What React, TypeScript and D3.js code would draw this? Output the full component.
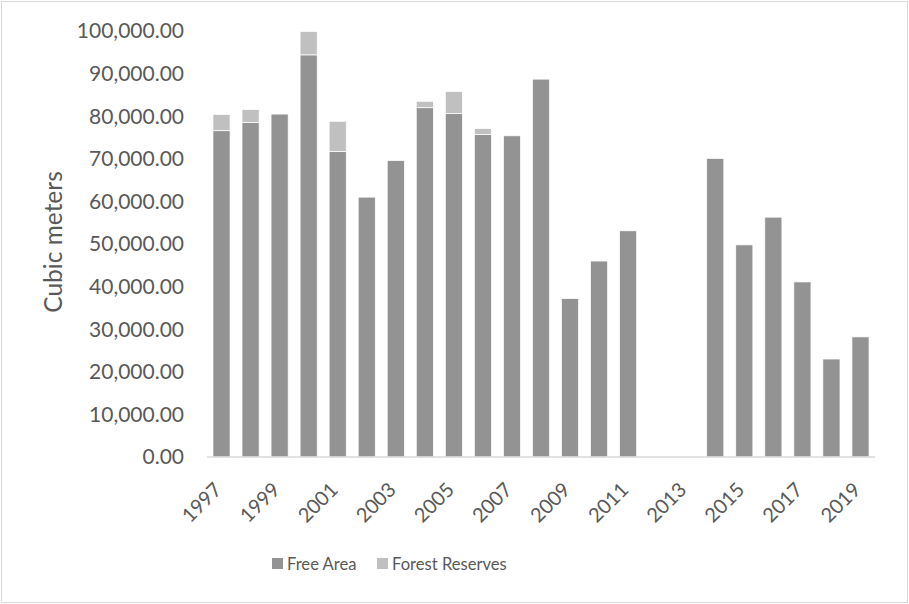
import React from "react";
import * as d3 from "d3";

// Harvested volume per year, split by area type (cubic meters)
const years = [
  "1997", "1998", "1999", "2000", "2001", "2002", "2003", "2004", "2005", "2006", "2007", "2008",
  "2009", "2010", "2011", "2012", "2013", "2014", "2015", "2016", "2017", "2018", "2019",
];
const freeArea = [
  76600, 78500, 80500, 94400, 71700, 61000, 69600, 82000, 80600, 75700, 75400, 88700,
  37200, 46000, 53100, 0, 0, 70100, 49800, 56300, 41100, 23000, 28200,
];
const forestReserves = [
  3800, 3100, 0, 5500, 7100, 0, 0, 1500, 5200, 1400, 0, 0,
  0, 0, 0, 0, 0, 0, 0, 0, 0, 0, 0,
];
const yTicks = [0, 10000, 20000, 30000, 40000, 50000, 60000, 70000, 80000, 90000, 100000];
const seriesNames = ["Free Area", "Forest Reserves"];
const seriesColors = ["#939393", "#c0c0c0"];

const W = 909;
const H = 604;
const plot = { left: 207, right: 875, top: 31, bottom: 457 };
const FONT = "Lato, 'DejaVu Sans', sans-serif";
const TEXT = "#595959";

export default function App() {
  const x = d3
    .scaleBand<string>()
    .domain(years)
    .range([plot.left, plot.right])
    .paddingInner(0.41)
    .paddingOuter(0.205);
  const y = d3.scaleLinear().domain([0, 100000]).range([plot.bottom, plot.top]);
  const fmt = d3.format(",.2f");

  const rows = years.map((yr, i) => ({ year: yr, free: freeArea[i], reserves: forestReserves[i] }));
  const stack = d3.stack<any>().keys(["free", "reserves"])(rows);

  return (
    <svg
      width={W}
      height={H}
      style={{ position: "absolute", left: 0, top: 0, background: "#fff" }}
      fontFamily={FONT}
    >
      <rect x={1.5} y={1.5} width={W - 3} height={H - 3} fill="#fff" stroke="#d9d9d9" strokeWidth={1} />

      {/* y tick labels */}
      {yTicks.map((t) => (
        <text
          key={t}
          x={184}
          y={y(t)}
          dy="0.35em"
          textAnchor="end"
          fontSize={21}
          fill={TEXT}
        >
          {fmt(t)}
        </text>
      ))}

      {/* y axis title */}
      <text
        transform={`translate(62,242) rotate(-90)`}
        textAnchor="middle"
        fontSize={24.5}
        fill={TEXT}
      >
        Cubic meters
      </text>

      {/* stacked bars */}
      {stack.map((layer, si) => (
        <g key={si} fill={seriesColors[si]} stroke="#ffffff" strokeWidth={0.75}>
          {layer.map((d, i) => {
            const h = y(d[0]) - y(d[1]);
            if (h <= 0) return null;
            return (
              <rect
                key={i}
                x={x(years[i])!}
                y={y(d[1])}
                width={x.bandwidth()}
                height={h}
              />
            );
          })}
        </g>
      ))}

      {/* category axis */}
      <line x1={plot.left} x2={plot.right} y1={plot.bottom} y2={plot.bottom} stroke="#d9d9d9" strokeWidth={1.5} />
      {years
        .filter((_, i) => i % 2 === 0)
        .map((yr) => {
          const cx = x(yr)! + x.bandwidth() / 2;
          return (
            <text
              key={yr}
              transform={`translate(${cx + 1.5},491) rotate(-45)`}
              textAnchor="end"
              fontSize={20}
              fill={TEXT}
            >
              {yr}
            </text>
          );
        })}

      {/* legend */}
      {seriesNames.map((name, i) => {
        const lx = [272, 377][i];
        return (
          <g key={name}>
            <rect x={lx} y={558} width={11} height={11} fill={seriesColors[i]} />
            <text x={lx + 15} y={564} dy="0.35em" fontSize={16.6} fill={TEXT}>
              {name}
            </text>
          </g>
        );
      })}
    </svg>
  );
}
